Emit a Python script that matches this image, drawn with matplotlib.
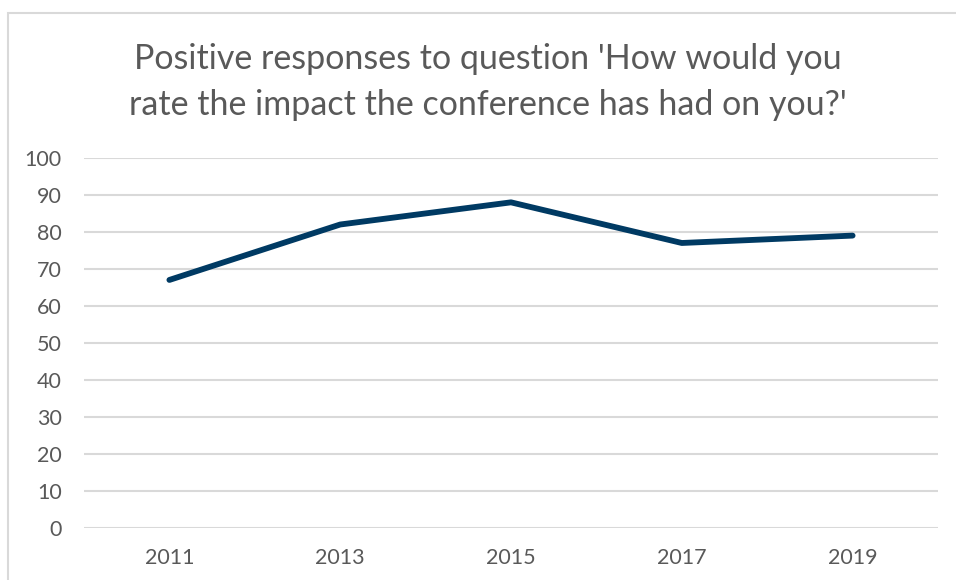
import matplotlib
matplotlib.use("Agg")
import matplotlib.pyplot as plt
from matplotlib.patches import Rectangle

# data
years = ["2011", "2013", "2015", "2017", "2019"]
positive = [67, 82, 88, 77, 79]
yticks = [0, 10, 20, 30, 40, 50, 60, 70, 80, 90, 100]
title_lines = ["Positive responses to question 'How would you",
               "rate the impact the conference has had on you?'"]

plt.rcParams['font.family'] = ['Lato', 'DejaVu Sans']
txt = "#595959"
grid = "#d9d9d9"

W, H = 956, 580
fig = plt.figure(figsize=(W / 100, H / 100), dpi=100)
fig.patch.set_facecolor("white")

# chart area border (cropped on right / bottom in the reference)
fig.patches.append(Rectangle((8 / W, -0.1), 1.2, 1 - 13 / H + 0.1,
                             transform=fig.transFigure, fill=False,
                             edgecolor=grid, linewidth=1.5))

ax = fig.add_axes([84 / W, 1 - 527.5 / H, (938 - 84) / W, (527.5 - 158) / H])
x = range(len(years))
ax.plot(x, positive, color="#003a63", linewidth=4.2, solid_capstyle="round",
        solid_joinstyle="round", zorder=3)

ax.set_xlim(-0.5, len(years) - 0.5)
ax.set_ylim(0, 100)
ax.set_yticks(yticks)
ax.set_xticks(list(x))
ax.set_xticklabels(years)
ax.grid(axis="y", color=grid, linewidth=1.5)
ax.set_axisbelow(True)
for s in ax.spines.values():
    s.set_visible(False)
ax.tick_params(length=0, labelsize=15.5, colors=txt)
ax.tick_params(axis="y", pad=16)
ax.tick_params(axis="x", pad=15)

fig.text(488 / W, 1 - 69 / H, title_lines[0], ha="center", va="baseline",
         fontsize=24.5, color=txt)
fig.text(488 / W, 1 - 115 / H, title_lines[1], ha="center", va="baseline",
         fontsize=24.5, color=txt)

fig.savefig("out.png", dpi=100)
